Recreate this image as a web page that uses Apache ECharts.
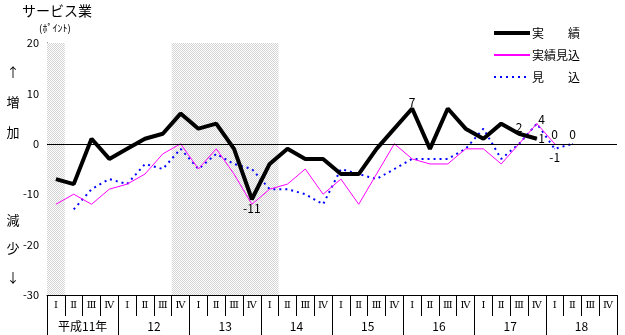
<!DOCTYPE html>
<html><head><meta charset="utf-8">
<script src="https://cdn.jsdelivr.net/npm/echarts@6/dist/echarts.min.js"></script>
<style>html,body{margin:0;padding:0;background:#fff}#c{width:625px;height:335px}</style>
</head><body><div id="c"></div>
<script>
const quarterLabels = ['Ⅰ','Ⅱ','Ⅲ','Ⅳ'];
const yearLabels = ['平成11年','12','13','14','15','16','17','18'];
const seriesNames = ['実　　績','実績見込','見　　込'];
// 実績
const actual = [-7,-8,1,-3,-1,1,2,6,3,4,-1,-11,-4,-1,-3,-3,-6,-6,-1,3,7,-1,7,3,1,4,2,1,null,null,null,null];
// 実績見込
const estimated = [-12,-10,-12,-9,-8,-6,-2,0,-5,-1,-6,-12,-9,-8,-5,-10,-7,-12,-6,0,-3,-4,-4,-1,-1,-4,0,4,0,null,null,null];
// 見込
const forecast = [null,-13,-9,-7,-8,-4,-5,-1,-5,-2,-4,-5,-9,-9,-10,-12,-5,-6,-7,-5,-3,-3,-3,-1,3,-3,0,4,-1,0,null,null];
// shaded periods (quarter index ranges)
const shadedRanges = [[0,1],[7,13]];
const yTicks = {min:-30, max:20, step:5, labelStep:10};

const categories = [];
yearLabels.forEach((y,yi)=>quarterLabels.forEach(q=>categories.push(yi+'-'+q)));

const FONT = 'Noto Sans CJK JP';
function labelled(values, spec, color){
  return values.map((v,i)=>{
    const s = spec[i];
    if (!s || v == null) return v;
    return {value:v, symbol:'circle', symbolSize:1,
      itemStyle:{color:color},
      label:Object.assign({show:true, color:'#000', fontSize:12, fontFamily:FONT,
        formatter:String(v)}, s)};
  });
}
const actualLabels = {11:{position:'bottom',distance:3},20:{position:'top',distance:0},26:{position:'top',distance:0},27:{position:'right',distance:1}};
const estLabels = {27:{position:'right',distance:1,offset:[0,-4]},28:{position:'top',distance:3}};
const fcLabels = {28:{position:'bottom',distance:2},29:{position:'top',distance:3}};

// dotted pattern
const pc = document.createElement('canvas'); pc.width=2; pc.height=2;
const px = pc.getContext('2d'); px.fillStyle='#fff'; px.fillRect(0,0,2,2);
px.fillStyle='#d4d4d4'; px.fillRect(0,0,1,1); px.fillRect(1,1,1,1);

const chart = echarts.init(document.getElementById('c'), null, {renderer:'canvas'});
const sideText = [['↑',72],['増',102],['加',132],['減',220],['少',248],['↓',277]];
chart.setOption({
  animation:false,
  textStyle:{fontFamily:FONT},
  grid:{left:47, right:8, top:43, bottom:40, containLabel:false},
  legend:{
    orient:'vertical', left:487, top:22, itemWidth:36, itemHeight:12, itemGap:10,
    itemStyle:{opacity:0},
    textStyle:{fontSize:12, color:'#000', fontFamily:FONT, padding:[0,0,0,-3]},
    data:[{name:seriesNames[0], lineStyle:{width:4}}, seriesNames[1], seriesNames[2]]
  },
  graphic:[
    {type:'text', left:22, top:4, style:{text:'サービス業', font:'14px "Noto Sans CJK JP"', fill:'#000'}},
    {type:'text', left:39, top:23, style:{text:'(ﾎﾟｲﾝﾄ)', font:'10px "Noto Sans CJK JP"', fill:'#000'}}
  ].concat(sideText.map(t=>({type:'text', x:13, y:t[1], style:{text:t[0], font:'13px "Noto Sans CJK JP"', fill:'#000', align:'center', verticalAlign:'middle'}}))),
  xAxis:[
    {type:'category', data:categories, position:'bottom', boundaryGap:true,
     axisLine:{onZero:false, lineStyle:{color:'#000', width:1}},
     axisTick:{show:true, interval:0, length:21, lineStyle:{color:'#000'}},
     axisLabel:{interval:0, margin:5, fontSize:10, color:'#000', fontFamily:'DejaVu Serif',
       formatter:(v)=>v.split('-')[1]},
     splitLine:{show:false}},
    {type:'category', data:yearLabels, position:'bottom', offset:21, boundaryGap:true,
     axisLine:{show:false, onZero:false},
     axisTick:{show:true, interval:0, length:19, lineStyle:{color:'#000'}},
     axisLabel:{interval:0, margin:4, fontSize:12, color:'#000', fontFamily:FONT},
     splitLine:{show:false}},
    {type:'value', min:0, max:categories.length, show:false}
  ],
  yAxis:{type:'value', min:yTicks.min, max:yTicks.max, interval:yTicks.step,
    axisLine:{show:true, onZero:false, lineStyle:{color:'#000'}},
    axisTick:{show:true, inside:true, length:3, lineStyle:{color:'#000'}},
    axisLabel:{margin:8, fontSize:11, color:'#000', fontFamily:FONT,
      formatter:(v)=> (v % yTicks.labelStep === 0 ? String(v) : '')},
    splitLine:{show:false}},
  series:[
    {type:'line', name:'_bg', xAxisIndex:2, data:[], silent:true, z:1,
     markArea:{silent:true, itemStyle:{color:{image:pc, repeat:'repeat'}},
       data:shadedRanges.map(r=>[{xAxis:r[0]},{xAxis:r[1]}])},
     markLine:{silent:true, symbol:'none', label:{show:false},
       lineStyle:{color:'#000', width:1, type:'solid'}, data:[{yAxis:0}]}},
    {type:'line', name:seriesNames[2], data:labelled(forecast, fcLabels, '#0000ff'), symbol:'none', z:3,
     lineStyle:{color:'#0000ff', width:2, type:[2,4]}, itemStyle:{color:'#0000ff'}},
    {type:'line', name:seriesNames[1], data:labelled(estimated, estLabels, '#ff00ff'), symbol:'none', z:4,
     lineStyle:{color:'#ff00ff', width:1}, itemStyle:{color:'#ff00ff'}},
    {type:'line', name:seriesNames[0], data:labelled(actual, actualLabels, '#000'), symbol:'none', z:5,
     lineStyle:{color:'#000', width:4}, itemStyle:{color:'#000'}}
  ]
});
</script></body></html>
